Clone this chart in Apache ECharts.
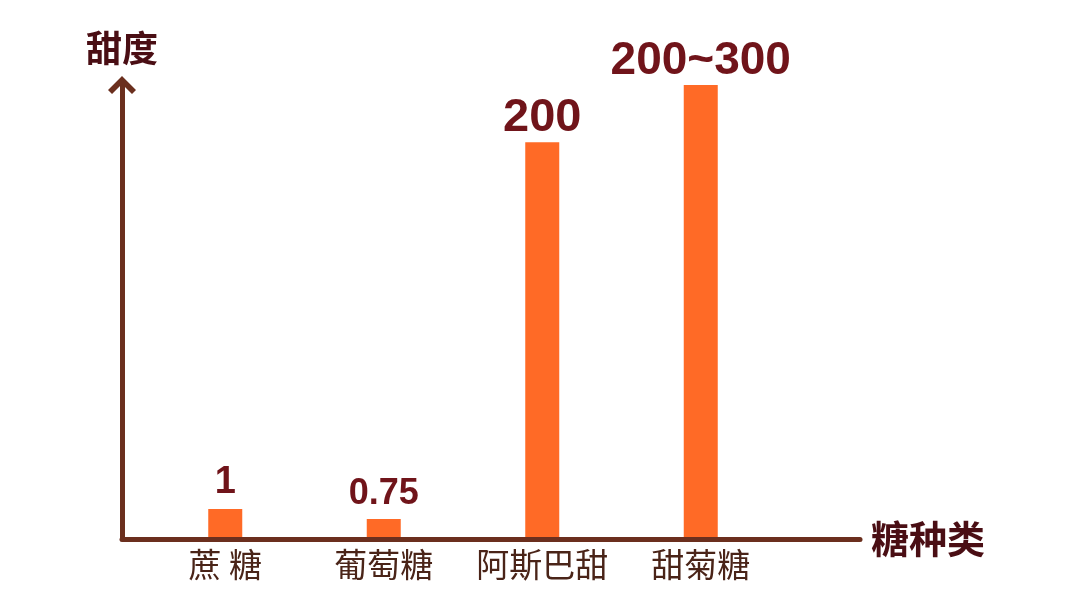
<!DOCTYPE html>
<html>
<head>
<meta charset="utf-8">
<script src="https://cdn.jsdelivr.net/npm/echarts@6/dist/echarts.min.js"></script>
<style>
html,body{margin:0;padding:0;background:#ffffff;}
#chart{width:1080px;height:607px;}
</style>
</head>
<body>
<div id="chart"></div>
<script>
// ---- data ----
const categories = ['蔗 糖', '葡萄糖', '阿斯巴甜', '甜菊糖'];
// schematic bar heights as drawn (relative units, 0-100; the picture is not to scale)
const barHeights = [6.6, 4.4, 87.4, 100];
// value labels printed above the bars
const valueLabels = ['1', '0.75', '200', '200~300'];
const yAxisName = '甜度';
const xAxisName = '糖种类';

// ---- styles ----
const axisColor = '#6B2F1E';
const barColor = '#FF6A26';
const labelColor = '#70141A';
const titleColor = '#4A0E14';
const labelSizes = [38, 36, 47, 46];
const labelDist = [8, 7, 1, 1];

const chart = echarts.init(document.getElementById('chart'), null, {renderer: 'canvas'});

const seriesData = barHeights.map((h, i) => ({
  value: h,
  label: {
    formatter: valueLabels[i],
    fontSize: labelSizes[i],
    distance: labelDist[i]
  }
}));

const option = {
  backgroundColor: '#ffffff',
  animation: false,
  grid: [
    {left: 146, right: 300, top: 85, bottom: 68},
    {left: 122, right: 220, top: 85, bottom: 68}
  ],
  xAxis: [
    {
      type: 'category', gridIndex: 0, data: categories,
      axisLine: {show: false}, axisTick: {show: false},
      axisLabel: {
        interval: 0,
        fontSize: 33, color: '#4A2418', margin: 9,
        fontFamily: '"Noto Sans CJK SC", sans-serif'
      }
    },
    {
      type: 'value', gridIndex: 1, min: 0, max: 1, z: 5,
      axisLine: {show: true, lineStyle: {color: axisColor, width: 5, cap: 'round'}},
      axisTick: {show: false}, axisLabel: {show: false}, splitLine: {show: false},
      name: xAxisName, nameLocation: 'end', nameGap: 11,
      nameTextStyle: {
        fontSize: 38, fontWeight: 'bold', color: titleColor,
        fontFamily: '"Noto Sans CJK SC", sans-serif'
      }
    }
  ],
  yAxis: [
    {
      type: 'value', gridIndex: 0, min: 0, max: 100, show: false
    },
    {
      type: 'value', gridIndex: 1, min: 0, max: 100, z: 5,
      axisLine: {
        show: true,
        symbol: ['none', 'path://M14,0 L28,14 L24,18 L14,8 L4,18 L0,14 Z'],
        symbolSize: [28, 19],
        lineStyle: {color: axisColor, width: 5, cap: 'round'}
      },
      axisTick: {show: false}, axisLabel: {show: false}, splitLine: {show: false},
      name: yAxisName, nameLocation: 'end', nameGap: 19,
      nameTextStyle: {
        fontSize: 36, fontWeight: 'bold', color: titleColor,
        fontFamily: '"Noto Sans CJK SC", sans-serif'
      }
    }
  ],
  series: [
    {
      type: 'bar', xAxisIndex: 0, yAxisIndex: 0,
      data: seriesData,
      barWidth: 34,
      itemStyle: {color: barColor},
      label: {
        show: true, position: 'top', color: labelColor, fontWeight: 'bold',
        fontFamily: '"Liberation Sans", Arial, sans-serif'
      }
    }
  ]
};
chart.setOption(option);
</script>
</body>
</html>
